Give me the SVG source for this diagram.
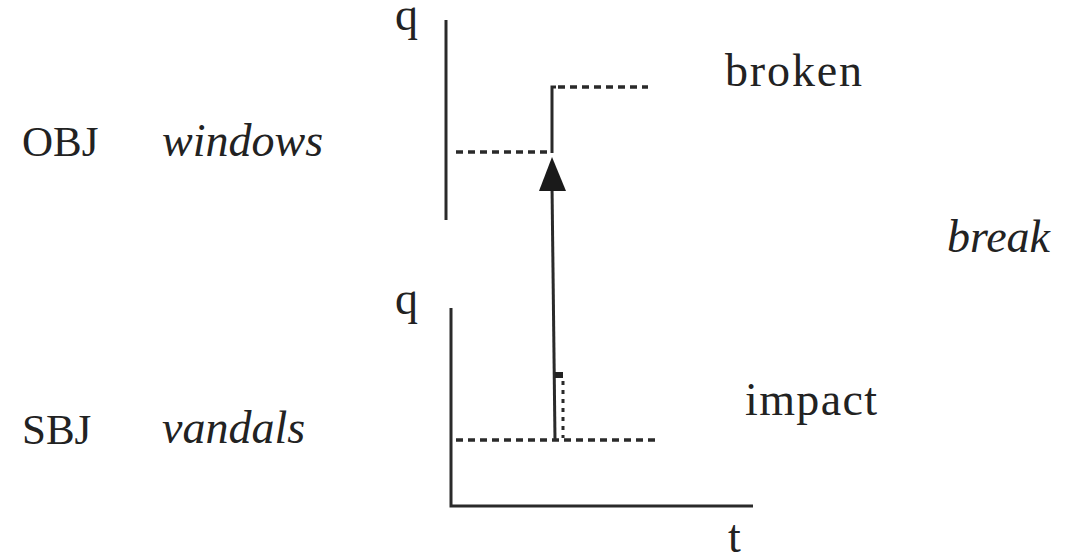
<svg xmlns="http://www.w3.org/2000/svg" width="1074" height="558" viewBox="0 0 1074 558">
<style>
text{font-family:"Liberation Serif","Times New Roman",serif;font-size:46px;fill:#222}
.it{font-style:italic}
.cap{font-size:43px}
.ax{stroke:#2a2a2a;stroke-width:3;fill:none}
.ds{stroke:#2a2a2a;stroke-width:3.5;fill:none;stroke-dasharray:7 5}
.dt{stroke:#2a2a2a;stroke-width:3;fill:none;stroke-dasharray:4 5}
</style>
<rect width="1074" height="558" fill="#fff"/>
<g id="labels">
<g id="obj"><text class="cap" x="22" y="156">OBJ</text><text class="it" x="162" y="156">windows</text></g>
<g id="sbj"><text class="cap" x="22" y="444">SBJ</text><text class="it" x="162" y="443">vandals</text></g>
<g id="q-top"><text x="395" y="30" font-size="44">q</text></g>
<g id="q-bottom"><text x="395" y="314" font-size="44">q</text></g>
<g id="broken"><text x="725" y="86" textLength="137">broken</text></g>
<g id="break"><text class="it" x="947" y="252">break</text></g>
<g id="impact"><text x="745" y="415" textLength="132">impact</text></g>
<g id="t"><text x="728" y="552" font-size="44">t</text></g>
</g>
<g id="axes">
<line class="ax" x1="446" y1="20" x2="446" y2="220"/>
<polyline class="ax" points="451,308 451,506 753,506"/>
</g>
<g id="connectors">
<line class="ds" x1="456" y1="152" x2="549" y2="152"/>
<polyline class="ax" points="552,153 552,87 556,87"/>
<line class="ds" x1="558" y1="87" x2="648" y2="87"/>
<line class="ds" x1="456" y1="440" x2="658" y2="440"/>
<line class="ax" x1="555" y1="440" x2="552" y2="185"/>
<path d="M552,157 L566,191 L539,191 Z" fill="#1a1a1a"/>
<rect x="555" y="372" width="8" height="6" fill="#222"/>
<line class="dt" x1="563" y1="381" x2="563" y2="438"/>
</g>
</svg>
